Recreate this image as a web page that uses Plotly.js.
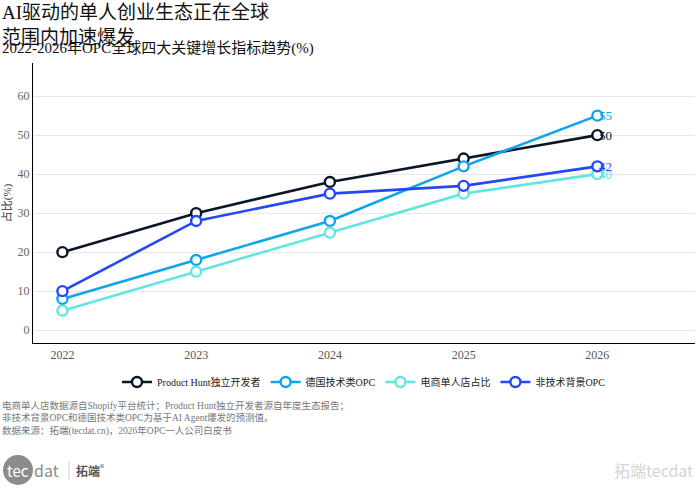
<!DOCTYPE html>
<html>
<head>
<meta charset="utf-8">
<script src="https://cdn.plot.ly/plotly-3.0.1.min.js"></script>
<style>
  html, body { margin: 0; padding: 0; background: #fff; }
  #chart { width: 700px; height: 490px; }
</style>
</head>
<body>
<div id="chart"></div>
<script>
// 年份與四條指標 (%)
const years = [2022, 2023, 2024, 2025, 2026];
const seriesNames = ['Product Hunt独立开发者', '德国技术类OPC', '电商单人店占比', '非技术背景OPC'];
const productHunt = [20, 30, 38, 44, 50];
const germanTech = [8, 18, 28, 42, 55];
const ecomSolo = [5, 15, 25, 35, 40];
const nonTech = [10, 28, 35, 37, 42];
const seriesColors = ['#0b1626', '#0ea5ee', '#62e6e0', '#2448f5'];
const yTicks = [0, 10, 20, 30, 40, 50, 60];

const FONT = 'Liberation Serif, DejaVu Serif, Noto Sans CJK SC, serif';
const SANS = 'Noto Sans CJK SC, Roboto, sans-serif';

const allValues = [productHunt, germanTech, ecomSolo, nonTech];

const traces = allValues.map((vals, k) => ({
  x: years,
  y: vals,
  name: seriesNames[k],
  type: 'scatter',
  mode: 'lines+markers',
  line: { color: seriesColors[k], width: 2.6 },
  marker: { size: 10, color: '#ffffff', line: { color: seriesColors[k], width: 2.4 } },
  cliponaxis: false,
  hoverinfo: 'x+y+name'
}));

// 最後一點的數值標籤 (貼著圓點右側)
const endLabels = allValues.map((vals, k) => ({
  xref: 'x', yref: 'y',
  x: years[years.length - 1], y: vals[vals.length - 1],
  text: String(vals[vals.length - 1]),
  xanchor: 'left', yanchor: 'middle', xshift: 0,
  showarrow: false,
  font: { family: FONT, size: 13, color: seriesColors[k] }
}));

// 像素 -> paper 座標 (繪圖區 y: 63..343, x: 33..695)
const PT = 63, PH = 280, PL = 33, PW = 662;
const py = px => 1 - (px - PT) / PH;
const pxX = px => (px - PL) / PW;

const layout = {
  width: 700,
  height: 490,
  margin: { l: PL, r: 700 - PL - PW, t: PT, b: 490 - PT - PH },
  paper_bgcolor: '#ffffff',
  plot_bgcolor: '#ffffff',
  font: { family: FONT, size: 11, color: '#333' },
  showlegend: true,
  legend: {
    orientation: 'h',
    x: 0.5, xanchor: 'center',
    y: py(382), yanchor: 'middle',
    font: { family: FONT, size: 10, color: '#222' },
    itemwidth: 30,
    traceorder: 'normal'
  },
  xaxis: {
    range: [2021.78, 2026.73],
    tickvals: years,
    ticktext: years.map(String),
    showgrid: false,
    zeroline: false,
    showline: true,
    linecolor: '#000',
    linewidth: 1.2,
    ticks: '',
    tickfont: { family: FONT, size: 12, color: '#555' }
  },
  yaxis: {
    range: [-3.3, 68.5],
    tickvals: yTicks,
    showgrid: true,
    gridcolor: '#e8e8e8',
    gridwidth: 1,
    zeroline: false,
    showline: true,
    linecolor: '#000',
    linewidth: 1.2,
    ticks: '',
    tickfont: { family: FONT, size: 12, color: '#666' },
    title: { text: '占比(%)', standoff: 4, font: { family: FONT, size: 11, color: '#333' } }
  },
  shapes: [
    // tecdat 標誌圓
    { type: 'circle', xref: 'paper', yref: 'paper', layer: 'below',
      x0: pxX(3), x1: pxX(33), y0: py(485), y1: py(455),
      fillcolor: '#8c8c8c', line: { width: 0 } },
    { type: 'line', xref: 'paper', yref: 'paper',
      x0: pxX(69), x1: pxX(69), y0: py(461), y1: py(480),
      line: { color: '#cfcfcf', width: 1 } }
  ],
  annotations: endLabels.concat([
    { xref: 'paper', yref: 'paper', x: pxX(0), y: py(0), xanchor: 'left', yanchor: 'top',
      align: 'left', showarrow: false,
      text: 'AI驱动的单人创业生态正在全球<br>范围内加速爆发',
      font: { family: FONT, size: 19, color: '#111' } },
    { xref: 'paper', yref: 'paper', x: pxX(0), y: py(48), xanchor: 'left', yanchor: 'middle',
      showarrow: false,
      text: '2022-2026年OPC全球四大关键增长指标趋势(%)',
      font: { family: FONT, size: 15, color: '#111' } },
    { xref: 'paper', yref: 'paper', x: pxX(0), y: py(398), xanchor: 'left', yanchor: 'top',
      align: 'left', showarrow: false,
      text: '电商单人店数据源自Shopify平台统计；Product Hunt独立开发者源自年度生态报告；<br>非技术背景OPC和德国技术类OPC为基于AI Agent爆发的预测值。<br>数据来源：拓端(tecdat.cn)，2026年OPC一人公司白皮书',
      font: { family: FONT, size: 9.5, color: '#777' } },
    { xref: 'paper', yref: 'paper', x: pxX(5), y: py(470), xanchor: 'left', yanchor: 'middle',
      showarrow: false, text: 'tec',
      font: { family: SANS, size: 15, color: '#ffffff' } },
    { xref: 'paper', yref: 'paper', x: pxX(32), y: py(470), xanchor: 'left', yanchor: 'middle',
      showarrow: false, text: 'dat',
      font: { family: SANS, size: 16, color: '#8c8c8c' } },
    { xref: 'paper', yref: 'paper', x: pxX(74), y: py(470), xanchor: 'left', yanchor: 'middle',
      showarrow: false, text: '<b>拓端</b><sup>®</sup>',
      font: { family: SANS, size: 12, color: '#555' } },
    { xref: 'paper', yref: 'paper', x: pxX(695), y: py(470), xanchor: 'right', yanchor: 'middle',
      showarrow: false,
      text: '拓端tecdat',
      font: { family: SANS, size: 16, color: '#d4d4d4' } }
  ])
};

Plotly.newPlot('chart', traces, layout, { displayModeBar: false, staticPlot: true });
</script>
</body>
</html>
